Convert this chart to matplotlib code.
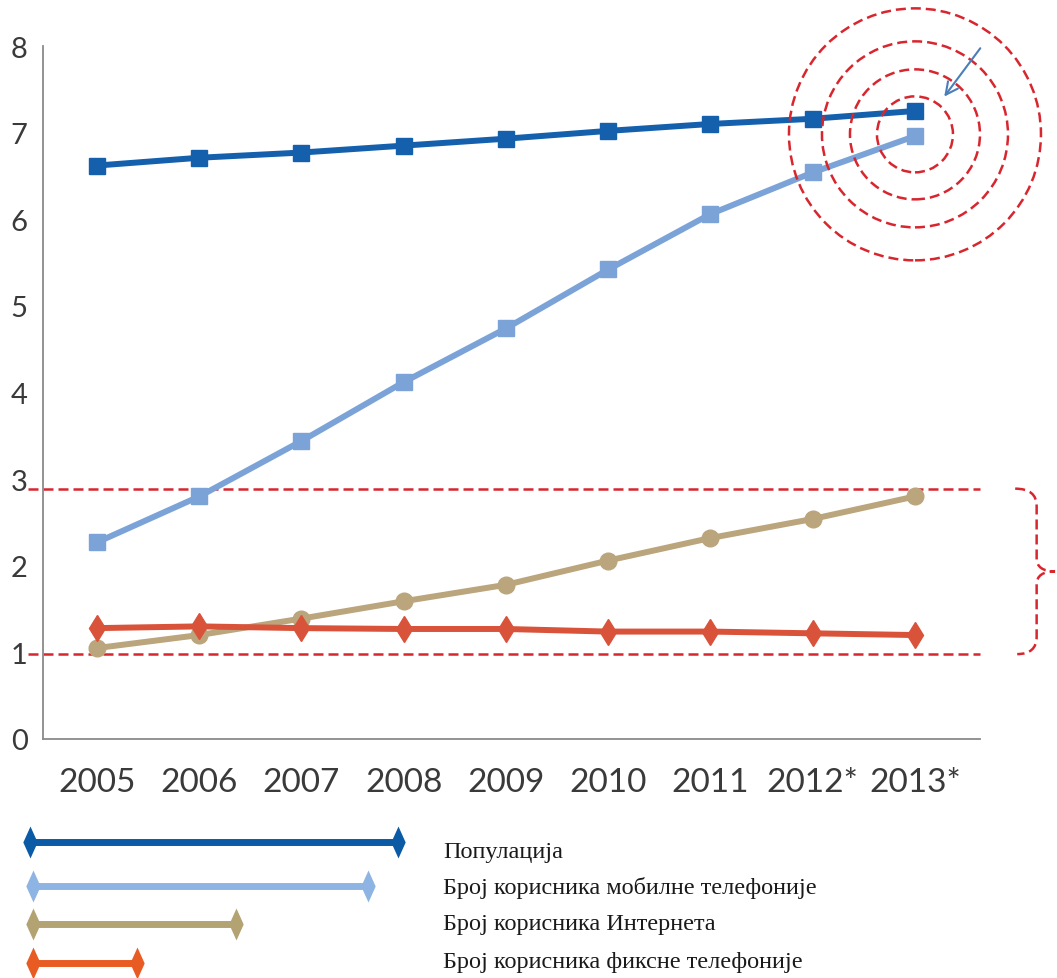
import numpy as np
import matplotlib
matplotlib.use('Agg')
import matplotlib.pyplot as plt
from matplotlib.patches import Circle, PathPatch
from matplotlib.path import Path
from matplotlib.transforms import ScaledTranslation

# data (millions)
years = ['2005', '2006', '2007', '2008', '2009', '2010', '2011', '2012*', '2013*']
population = [6.62, 6.71, 6.77, 6.85, 6.93, 7.02, 7.10, 7.16, 7.25]
mobile = [2.27, 2.80, 3.44, 4.12, 4.74, 5.42, 6.06, 6.54, 6.96]
internet = [1.05, 1.20, 1.39, 1.59, 1.78, 2.06, 2.32, 2.54, 2.80]
fixed = [1.28, 1.30, 1.28, 1.27, 1.27, 1.24, 1.24, 1.22, 1.20]
yticks = [0, 1, 2, 3, 4, 5, 6, 7, 8]

band = [0.98, 2.89]          # red dashed band
target = (8, 6.98)           # centre of the target circles

legend_labels = ['Популација', 'Број корисника мобилне телефоније',
                 'Број корисника Интернета', 'Број корисника фиксне телефоније']
legend_len = [368, 335, 203, 104]   # length of the legend arrows (px)

c_pop = '#1560ad'
c_mob = '#7ba3d7'
c_int = '#bba57c'
c_fix = '#d9533b'
c_red = '#d8262e'
leg_colors = ['#0b5aa6', '#8db4e2', '#b3a272', '#e85c23']

W, H = 1057, 979
fig = plt.figure(figsize=(W / 100, H / 100), dpi=100)
ax = fig.add_axes([43 / W, 1 - 740 / H, (980 - 43) / W, (740 - 47) / H])

x = np.arange(len(years))
ax.plot(x, population, color=c_pop, lw=4.3, marker='s', ms=11, zorder=5)
ax.plot(x, mobile, color=c_mob, lw=4.3, marker='s', ms=11, zorder=4)
ax.plot(x, internet, color=c_int, lw=4.3, marker='o', ms=12, zorder=3)
ax.plot(x, fixed, color=c_fix, lw=4.3, marker='d', ms=13, zorder=3)

ax.set_xlim(-0.528, 8.636)
ax.set_ylim(0, 8)
ax.set_xticks(x)
ax.set_xticklabels(years)
ax.set_yticks(yticks)
for s in ['top', 'right']:
    ax.spines[s].set_visible(False)
for s in ['left', 'bottom']:
    ax.spines[s].set_color('#8a8a8a')
    ax.spines[s].set_linewidth(1.3)
ax.tick_params(length=0)
ax.tick_params(axis='x', pad=20, labelsize=24, labelcolor='#3a3a3a')
ax.tick_params(axis='y', pad=11, labelsize=21, labelcolor='#3a3a3a')
for lab in ax.get_xticklabels() + ax.get_yticklabels():
    lab.set_family(['Lato', 'DejaVu Sans'])
    lab.set_weight('normal')

# dashed band lines
for yv in band:
    ax.plot([-0.675, 8.636], [yv, yv], color=c_red, lw=1.8, ls=(0, (4, 2)),
            clip_on=False, zorder=2)

# brace on the right
bx0, bx1, btip = 8.98, 9.19, 9.37
ymid = (band[0] + band[1]) / 2
verts = [(bx0, band[1]), (bx1, band[1]), (bx1, band[1] - 0.2),
         (bx1, ymid + 0.15), (bx1, ymid), (btip, ymid),
         (bx1, ymid), (bx1, ymid - 0.15),
         (bx1, band[0] + 0.2), (bx1, band[0]), (bx0 + 0.02, band[0])]
codes = [Path.MOVETO, Path.CURVE3, Path.CURVE3, Path.LINETO, Path.CURVE3, Path.CURVE3,
         Path.CURVE3, Path.CURVE3, Path.LINETO, Path.CURVE3, Path.CURVE3]
ax.add_patch(PathPatch(Path(verts, codes), fill=False, ec=c_red, lw=1.8,
                       ls=(0, (4, 2)), clip_on=False))

# target circles
off = fig.dpi_scale_trans + ScaledTranslation(target[0], target[1], ax.transData)
for r in [0.38, 0.65, 0.93, 1.26]:
    ax.add_patch(Circle((0, 0), r, transform=off, fill=False, ec=c_red, lw=1.8,
                        ls=(0, (4, 2)), clip_on=False, zorder=6))

ax.annotate('', xy=(8.27, 7.39), xytext=(8.655, 8.0),
            arrowprops=dict(arrowstyle='->', color='#4a7ebb', lw=1.5,
                            mutation_scale=22),
            annotation_clip=False, zorder=7)

# legend at the bottom, pixel coordinates
lax = fig.add_axes([0, 0, 1, 160 / H])
lax.set_xlim(0, W)
lax.set_ylim(979, 819)
lax.axis('off')
head = [(0, 1), (0.45, 0), (0, -1), (-0.45, 0), (0, 1)]
ys = [843, 887, 925, 964]
ty = [853, 888, 925, 963]
x0s = [30, 33, 33, 33]
for i in range(4):
    xa, xb = x0s[i], x0s[i] + legend_len[i]
    lax.plot([xa, xb], [ys[i], ys[i]], color=leg_colors[i], lw=5, solid_capstyle='butt')
    lax.plot([xa, xb], [ys[i], ys[i]], ls='none', marker=head, ms=23,
             color=leg_colors[i], mec='none')
    lax.text(443, ty[i], legend_labels[i], fontsize=17.5, va='center', ha='left',
             family='Liberation Serif', color='#1a1a1a')

fig.savefig('out.png', dpi=100)
